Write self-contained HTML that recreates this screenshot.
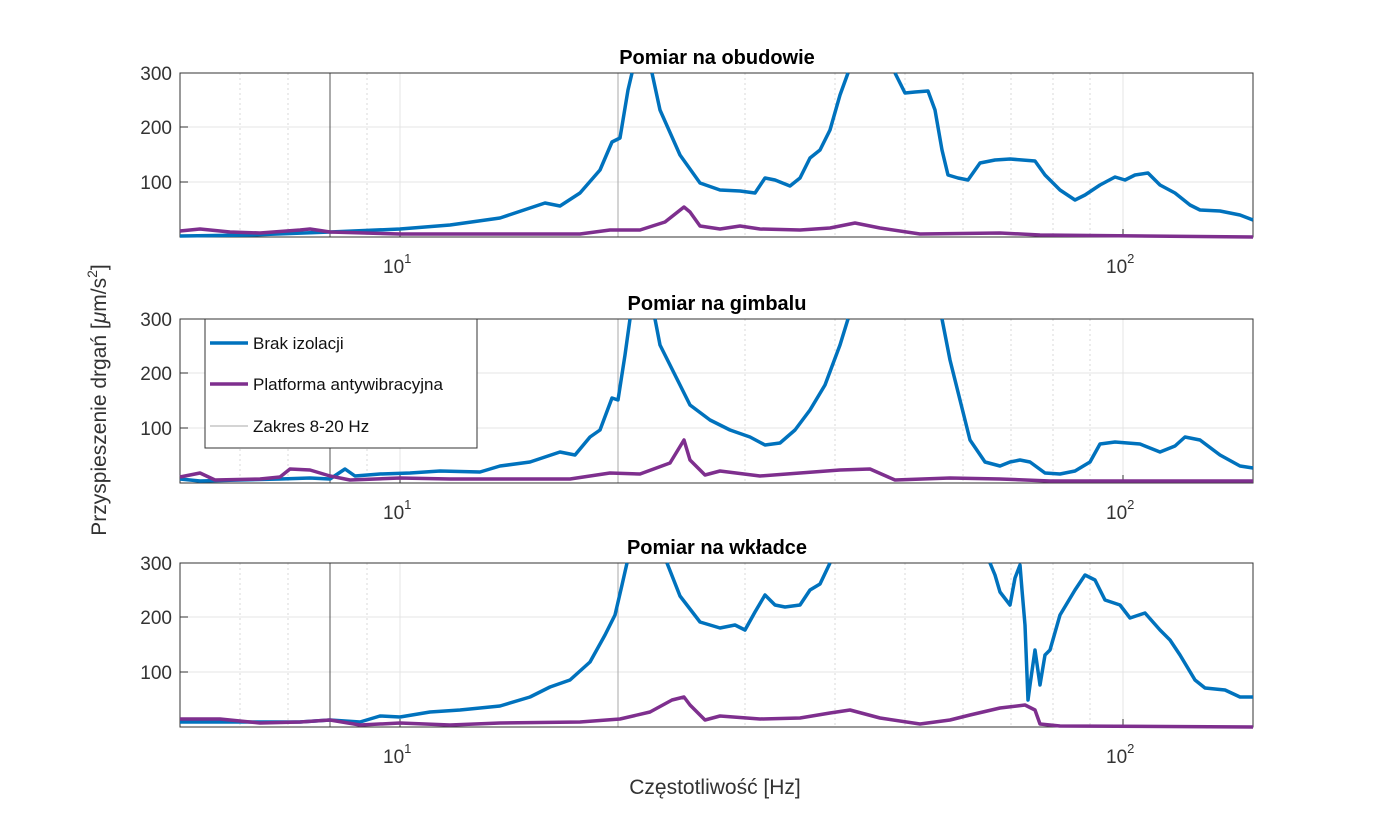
<!DOCTYPE html>
<html><head><meta charset="utf-8"><style>body{margin:0;background:#fff}svg{display:block}text{font-family:"Liberation Sans",sans-serif}</style></head><body>
<svg width="1386" height="818" viewBox="0 0 1386 818" xmlns="http://www.w3.org/2000/svg">
<defs>
<g id="grid">
<g stroke="#d8d8d8" stroke-width="1" stroke-dasharray="2,3">
<line x1="240" y1="0" x2="240" y2="164"/><line x1="288" y1="0" x2="288" y2="164"/><line x1="367" y1="0" x2="367" y2="164"/>
<line x1="745" y1="0" x2="745" y2="164"/><line x1="835" y1="0" x2="835" y2="164"/><line x1="905" y1="0" x2="905" y2="164"/>
<line x1="963" y1="0" x2="963" y2="164"/><line x1="1011" y1="0" x2="1011" y2="164"/><line x1="1053" y1="0" x2="1053" y2="164"/><line x1="1090" y1="0" x2="1090" y2="164"/>
</g>
<g stroke="#e4e4e4" stroke-width="1">
<line x1="400" y1="0" x2="400" y2="164"/><line x1="1123" y1="0" x2="1123" y2="164"/>
<line x1="180" y1="109" x2="1253" y2="109"/><line x1="180" y1="54" x2="1253" y2="54"/>
</g>
<line x1="330" y1="0" x2="330" y2="164" stroke="#555" stroke-width="1"/>
<line x1="618" y1="0" x2="618" y2="164" stroke="#aaa" stroke-width="1"/>
</g>
<g id="axes" font-size="19" fill="#333">
<rect x="180" y="0" width="1073" height="164" fill="none" stroke="#333" stroke-width="1"/>
<g stroke="#333"><line x1="180" y1="109" x2="188" y2="109"/><line x1="180" y1="54" x2="188" y2="54"/><line x1="400" y1="164" x2="400" y2="156"/><line x1="1123" y1="164" x2="1123" y2="156"/></g>
<text x="172" y="7" text-anchor="end">300</text>
<text x="172" y="61" text-anchor="end">200</text>
<text x="172" y="116" text-anchor="end">100</text>
<text x="383" y="200">10<tspan font-size="13" dy="-10">1</tspan></text>
<text x="1106" y="200">10<tspan font-size="13" dy="-10">2</tspan></text>
</g>
</defs>

<g transform="translate(0,73)"><use href="#grid"/><use href="#axes"/></g>
<g transform="translate(0,319)"><use href="#grid"/><use href="#axes"/></g>
<g transform="translate(0,563)"><use href="#grid"/><use href="#axes"/></g>

<g font-weight="bold" font-size="20" text-anchor="middle" fill="#000">
<text x="717" y="64">Pomiar na obudowie</text>
<text x="717" y="310">Pomiar na gimbalu</text>
<text x="717" y="554">Pomiar na wkładce</text>
</g>

<text x="715" y="794" text-anchor="middle" font-size="21" fill="#333">Częstotliwość [Hz]</text>
<text transform="translate(106,400) rotate(-90)" text-anchor="middle" font-size="21" fill="#333">Przyspieszenie drgań [<tspan font-style="italic">μ</tspan>m/s<tspan font-size="14" dy="-9">2</tspan><tspan dy="9">]</tspan></text>

<g fill="none" stroke-width="3.5" stroke-linejoin="round">
<!-- plot 1 -->
<g clip-path="none">
<polyline stroke="#0072BD" points="180,236 250,235 330,232 400,229 450,225 500,218 545,203 560,206 580,193 600,170 612,142 620,138 628,90 632,73"/>
<polyline stroke="#0072BD" points="652,73 660,110 680,155 700,183 720,190 740,191 755,193 765,178 775,180 790,186 800,178 810,158 820,150 830,130 840,95 848,73"/>
<polyline stroke="#0072BD" points="895,73 905,93 915,92 928,91 935,110 942,150 948,175 958,178 968,180 980,163 995,160 1010,159 1035,161 1045,175 1060,190 1075,200 1085,195 1100,185 1115,177 1125,180 1135,175 1148,173 1160,185 1175,193 1190,205 1200,210 1220,211 1240,215 1253,220"/>
<polyline stroke="#7E2F8E" points="180,231 200,229 230,232 260,233 300,230 310,229 330,232 400,234 500,234 580,234 610,230 640,230 665,222 684,207 690,212 700,226 720,229 740,226 760,229 800,230 830,228 855,223 880,228 920,234 1000,233 1040,235 1253,237"/>
<!-- plot 2 -->
<polyline stroke="#0072BD" points="180,479 200,481 240,480 280,479 310,478 330,479 345,469 355,476 380,474 410,473 440,471 480,472 500,466 530,462 560,452 575,455 590,437 600,430 612,398 618,400 625,355 630,319"/>
<polyline stroke="#0072BD" points="655,319 660,345 680,385 690,405 710,420 730,430 750,437 765,445 780,443 795,430 810,410 825,385 840,345 848,319"/>
<polyline stroke="#0072BD" points="942,319 950,360 960,400 970,440 985,462 1000,466 1010,462 1020,460 1030,462 1045,473 1060,474 1075,471 1090,462 1100,444 1115,442 1140,444 1160,452 1175,446 1185,437 1200,440 1220,455 1240,466 1253,468"/>
<polyline stroke="#7E2F8E" points="180,477 200,473 215,480 260,479 280,477 290,469 310,470 330,476 350,480 400,478 450,479 500,479 570,479 610,473 640,474 670,463 684,440 690,460 705,475 720,471 760,476 800,473 840,470 870,469 895,480 950,478 1000,479 1050,481 1253,481"/>
<!-- plot 3 -->
<polyline stroke="#0072BD" points="180,722 250,722 300,722 330,720 360,722 380,716 400,717 430,712 460,710 500,706 530,697 550,687 570,680 590,662 605,635 615,615 622,585 627,563"/>
<polyline stroke="#0072BD" points="667,563 680,596 700,622 720,628 735,625 745,630 755,612 765,595 775,605 785,607 800,605 810,590 820,584 830,563"/>
<polyline stroke="#0072BD" points="990,563 995,575 1000,592 1010,605 1015,578 1020,565 1022,590 1025,625 1028,700 1030,685 1035,650 1040,685 1045,655 1050,650 1060,615 1075,590 1085,575 1095,580 1105,600 1120,605 1130,618 1145,613 1160,630 1170,640 1180,655 1195,680 1205,688 1225,690 1240,697 1253,697"/>
<polyline stroke="#7E2F8E" points="180,719 220,719 260,723 300,722 330,720 360,725 400,723 450,725 500,723 580,722 620,719 650,712 672,700 684,697 690,705 705,720 720,716 760,719 800,718 830,713 850,710 880,718 920,724 950,720 970,715 1000,708 1025,705 1035,710 1040,724 1060,726 1253,727"/>
</g>
</g>

<!-- legend -->
<rect x="205" y="319" width="272" height="129" fill="#fff" stroke="#333" stroke-width="1"/>
<line x1="210" y1="343" x2="248" y2="343" stroke="#0072BD" stroke-width="3.5"/>
<line x1="210" y1="384" x2="248" y2="384" stroke="#7E2F8E" stroke-width="3.5"/>
<line x1="210" y1="426" x2="248" y2="426" stroke="#aaa" stroke-width="1"/>
<g font-size="17" fill="#111">
<text x="253" y="349">Brak izolacji</text>
<text x="253" y="390">Platforma antywibracyjna</text>
<text x="253" y="432">Zakres 8-20 Hz</text>
</g>
</svg>
</body></html>
